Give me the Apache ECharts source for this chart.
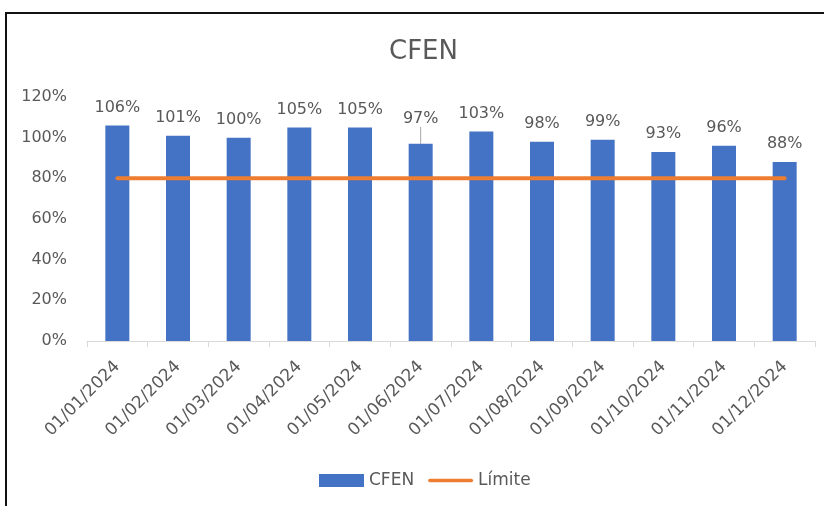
<!DOCTYPE html>
<html>
<head>
<meta charset="utf-8">
<script src="https://cdn.jsdelivr.net/npm/echarts@6/dist/echarts.min.js"></script>
<style>
html,body{margin:0;padding:0;background:#fff;}
#chart{width:824px;height:506px;position:absolute;left:0;top:0;}
#frame{position:absolute;left:5px;top:12px;width:830px;height:500px;border-left:2px solid #111;border-top:2px solid #111;pointer-events:none;box-shadow:0 1px 0 #ddd;}
</style>
</head>
<body>
<div id="chart"></div>
<div id="frame"></div>
<script>
const categories = ['01/01/2024','01/02/2024','01/03/2024','01/04/2024','01/05/2024','01/06/2024','01/07/2024','01/08/2024','01/09/2024','01/10/2024','01/11/2024','01/12/2024'];
const cfenValues = [1.06, 1.01, 1.00, 1.05, 1.05, 0.97, 1.03, 0.98, 0.99, 0.93, 0.96, 0.88];
const limiteValues = [0.8, 0.8, 0.8, 0.8, 0.8, 0.8, 0.8, 0.8, 0.8, 0.8, 0.8, 0.8];
const yTicks = {min: 0, max: 1.2, interval: 0.2};

const FONT = '"DejaVu Sans", sans-serif';
const TXT = '#595959';
const pct = v => Math.round(v * 100) + '%';
const chart = echarts.init(document.getElementById('chart'));
chart.setOption({
  animation: false,
  backgroundColor: '#fff',
  title: {
    text: 'CFEN', left: 384, top: 34,
    textStyle: {fontFamily: FONT, fontSize: 26, fontWeight: 'normal', color: TXT}
  },
  grid: {left: 87, right: 9, top: 97, bottom: 165},
  legend: {
    left: 314, top: 467, itemWidth: 45, itemHeight: 13, itemGap: 14,
    textStyle: {fontFamily: FONT, fontSize: 17, color: TXT},
    data: [
      {name: 'CFEN', icon: 'rect'},
      {name: 'Límite', icon: 'path://M2,0H48A2,2 0 0 1 48,4H2A2,2 0 0 1 2,0Z'}
    ]
  },
  xAxis: {
    type: 'category', data: categories,
    axisLine: {lineStyle: {color: '#d9d9d9', width: 1}},
    axisTick: {show: true, length: 6, lineStyle: {color: '#d9d9d9'}},
    axisLabel: {rotate: 45, margin: 23, fontFamily: FONT, fontSize: 17, color: TXT}
  },
  yAxis: {
    type: 'value', min: yTicks.min, max: yTicks.max, interval: yTicks.interval,
    splitLine: {show: false}, axisLine: {show: false}, axisTick: {show: false},
    axisLabel: {margin: 20, fontFamily: FONT, fontSize: 16, color: TXT, formatter: pct}
  },
  series: [
    {
      name: 'CFEN', type: 'bar', barWidth: 24,
      data: cfenValues.map((v, i) => i === 5 ? {value: v, labelLine: {show: true}} : v),
      itemStyle: {color: '#4472C4'},
      label: {show: true, position: 'top', distance: 10, fontFamily: FONT, fontSize: 16, color: TXT,
        formatter: p => pct(p.value)},
      labelLayout: p => p.dataIndex === 5 ? {dy: -7} : {},
      labelLine: {show: false, lineStyle: {color: '#a6a6a6', width: 1}}
    },
    {
      name: 'Límite', type: 'line', data: limiteValues, symbol: 'none',
      lineStyle: {color: '#ED7D31', width: 4, cap: 'round'},
      itemStyle: {color: '#ED7D31'}
    }
  ]
});
</script>
</body>
</html>
